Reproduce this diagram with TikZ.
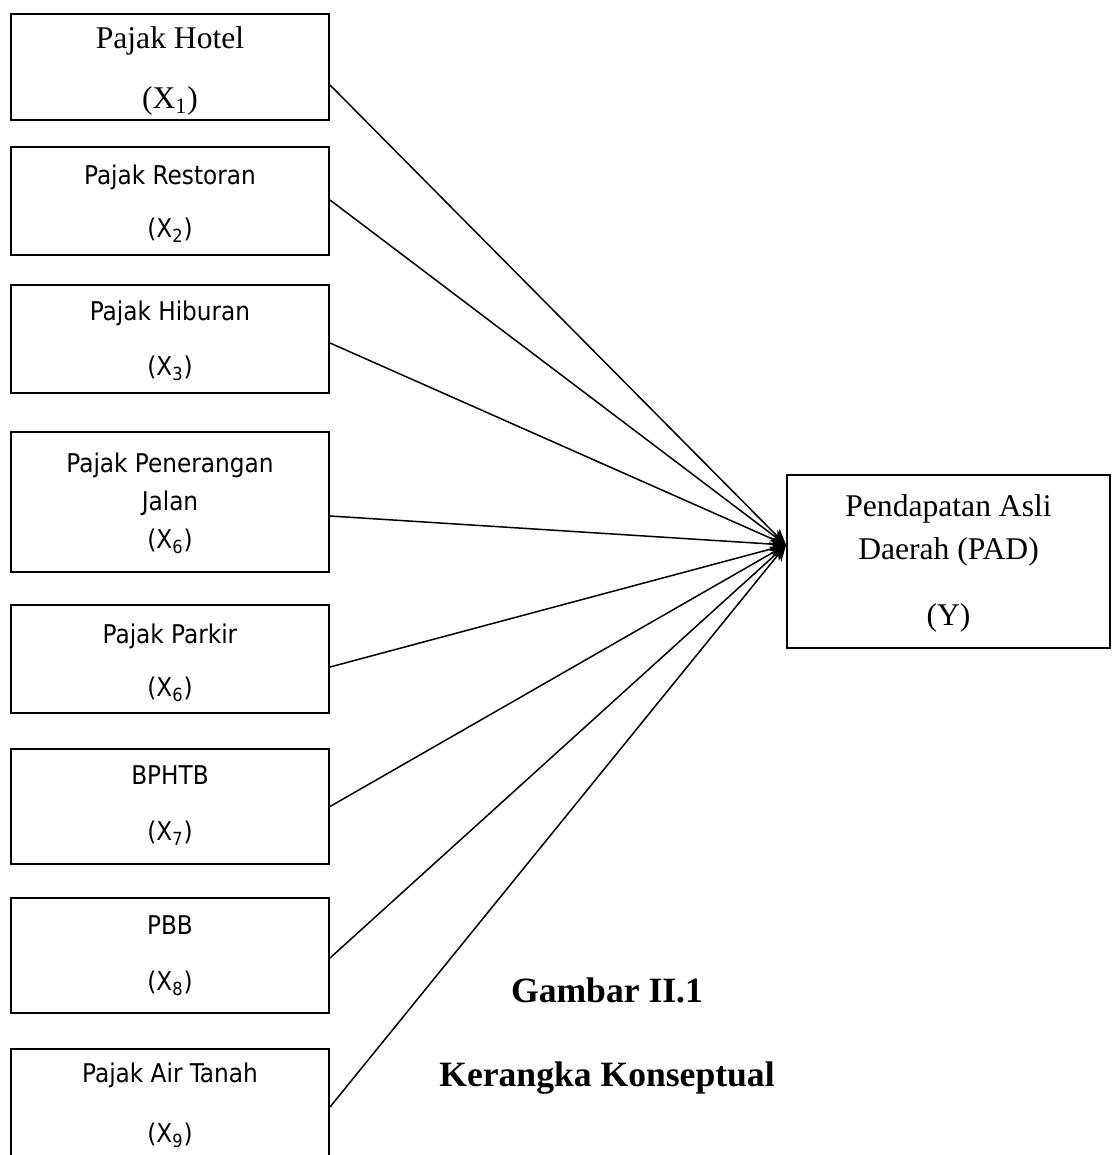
\documentclass[tikz,border=0pt]{standalone}
\usepackage{fontspec}
\setmainfont{Liberation Serif}
\newfontfamily\sansf{DejaVu Sans Condensed}
\usetikzlibrary{arrows.meta}
\begin{document}
\begin{tikzpicture}[x=0.5pt,y=-0.5pt,
  box/.style={draw,line width=1pt,minimum width=159pt,inner sep=0pt},
  stxt/.style={font=\sansf\fontsize{12.9}{15}\selectfont,inner sep=0pt},
  rtxt/.style={font=\fontsize{15.8}{19}\selectfont,inner sep=0pt},
  captxt/.style={font=\bfseries\fontsize{17.8}{21}\selectfont,inner sep=0pt},
  arr/.style={line width=0.75pt,-{Stealth[length=8pt,width=7pt]}}]
\useasboundingbox (0,0) rectangle (1112,1155);
\clip (0,0) rectangle (1112,1155);
% boxes
\node[box,minimum height=53pt] (b1) at (170,67) {};
\node[box,minimum height=54pt] (b2) at (170,201) {};
\node[box,minimum height=54pt] (b3) at (170,339) {};
\node[box,minimum height=70pt] (b4) at (170,502) {};
\node[box,minimum height=54pt] (b5) at (170,659) {};
\node[box,minimum height=57.5pt] (b6) at (170,806.5) {};
\node[box,minimum height=57.5pt] (b7) at (170,955.5) {};
\node[box,minimum height=58pt] (b8) at (170,1107) {};
\node[box,minimum width=161.5pt,minimum height=86.5pt] (pad) at (948.5,561.5) {};
% texts
\node[rtxt] (t1a) at (170,41) {Pajak Hotel};
\node[rtxt] (t1b) at (170,101) {(X\textsubscript{1})};
\node[stxt] (t2a) at (170,177) {Pajak Restoran};
\node[stxt] (t2b) at (170,230) {(X\textsubscript{2})};
\node[stxt] (t3a) at (170,313) {Pajak Hiburan};
\node[stxt] (t3b) at (170,368) {(X\textsubscript{3})};
\node[stxt] (t4a) at (170,465) {Pajak Penerangan};
\node[stxt] (t4b) at (170,503) {Jalan};
\node[stxt] (t4c) at (170,541) {(X\textsubscript{6})};
\node[stxt] (t5a) at (170,636) {Pajak Parkir};
\node[stxt] (t5b) at (170,689) {(X\textsubscript{6})};
\node[stxt] (t6a) at (170,775) {BPHTB};
\node[stxt] (t6b) at (170,833) {(X\textsubscript{7})};
\node[stxt] (t7a) at (170,925) {PBB};
\node[stxt] (t7b) at (170,983) {(X\textsubscript{8})};
\node[stxt] (t8a) at (170,1075) {Pajak Air Tanah};
\node[stxt] (t8b) at (170,1135) {(X\textsubscript{9})};
\node[rtxt] (p1) at (948.5,509) {Pendapatan Asli};
\node[rtxt] (p2) at (948.5,552) {Daerah (PAD)};
\node[rtxt] (p3) at (948.5,618) {(Y)};
\node[captxt] (c1) at (607,990) {Gambar II.1};
\node[captxt] (c2) at (607,1078) {Kerangka Konseptual};
% connectors
\coordinate (tgt) at ([yshift=8.25pt]pad.west);
\draw[arr] ([yshift=-9pt]b1.east) -- (tgt);
\draw[arr] ([yshift=0.5pt]b2.east) -- (tgt);
\draw[arr] ([yshift=-2pt]b3.east) -- (tgt);
\draw[arr] ([yshift=-7pt]b4.east) -- (tgt);
\draw[arr] ([yshift=-4pt]b5.east) -- (tgt);
\draw[arr] (b6.east) -- (tgt);
\draw[arr] ([yshift=-1.25pt]b7.east) -- (tgt);
\draw[arr] (b8.east) -- (tgt);
\end{tikzpicture}
\end{document}
